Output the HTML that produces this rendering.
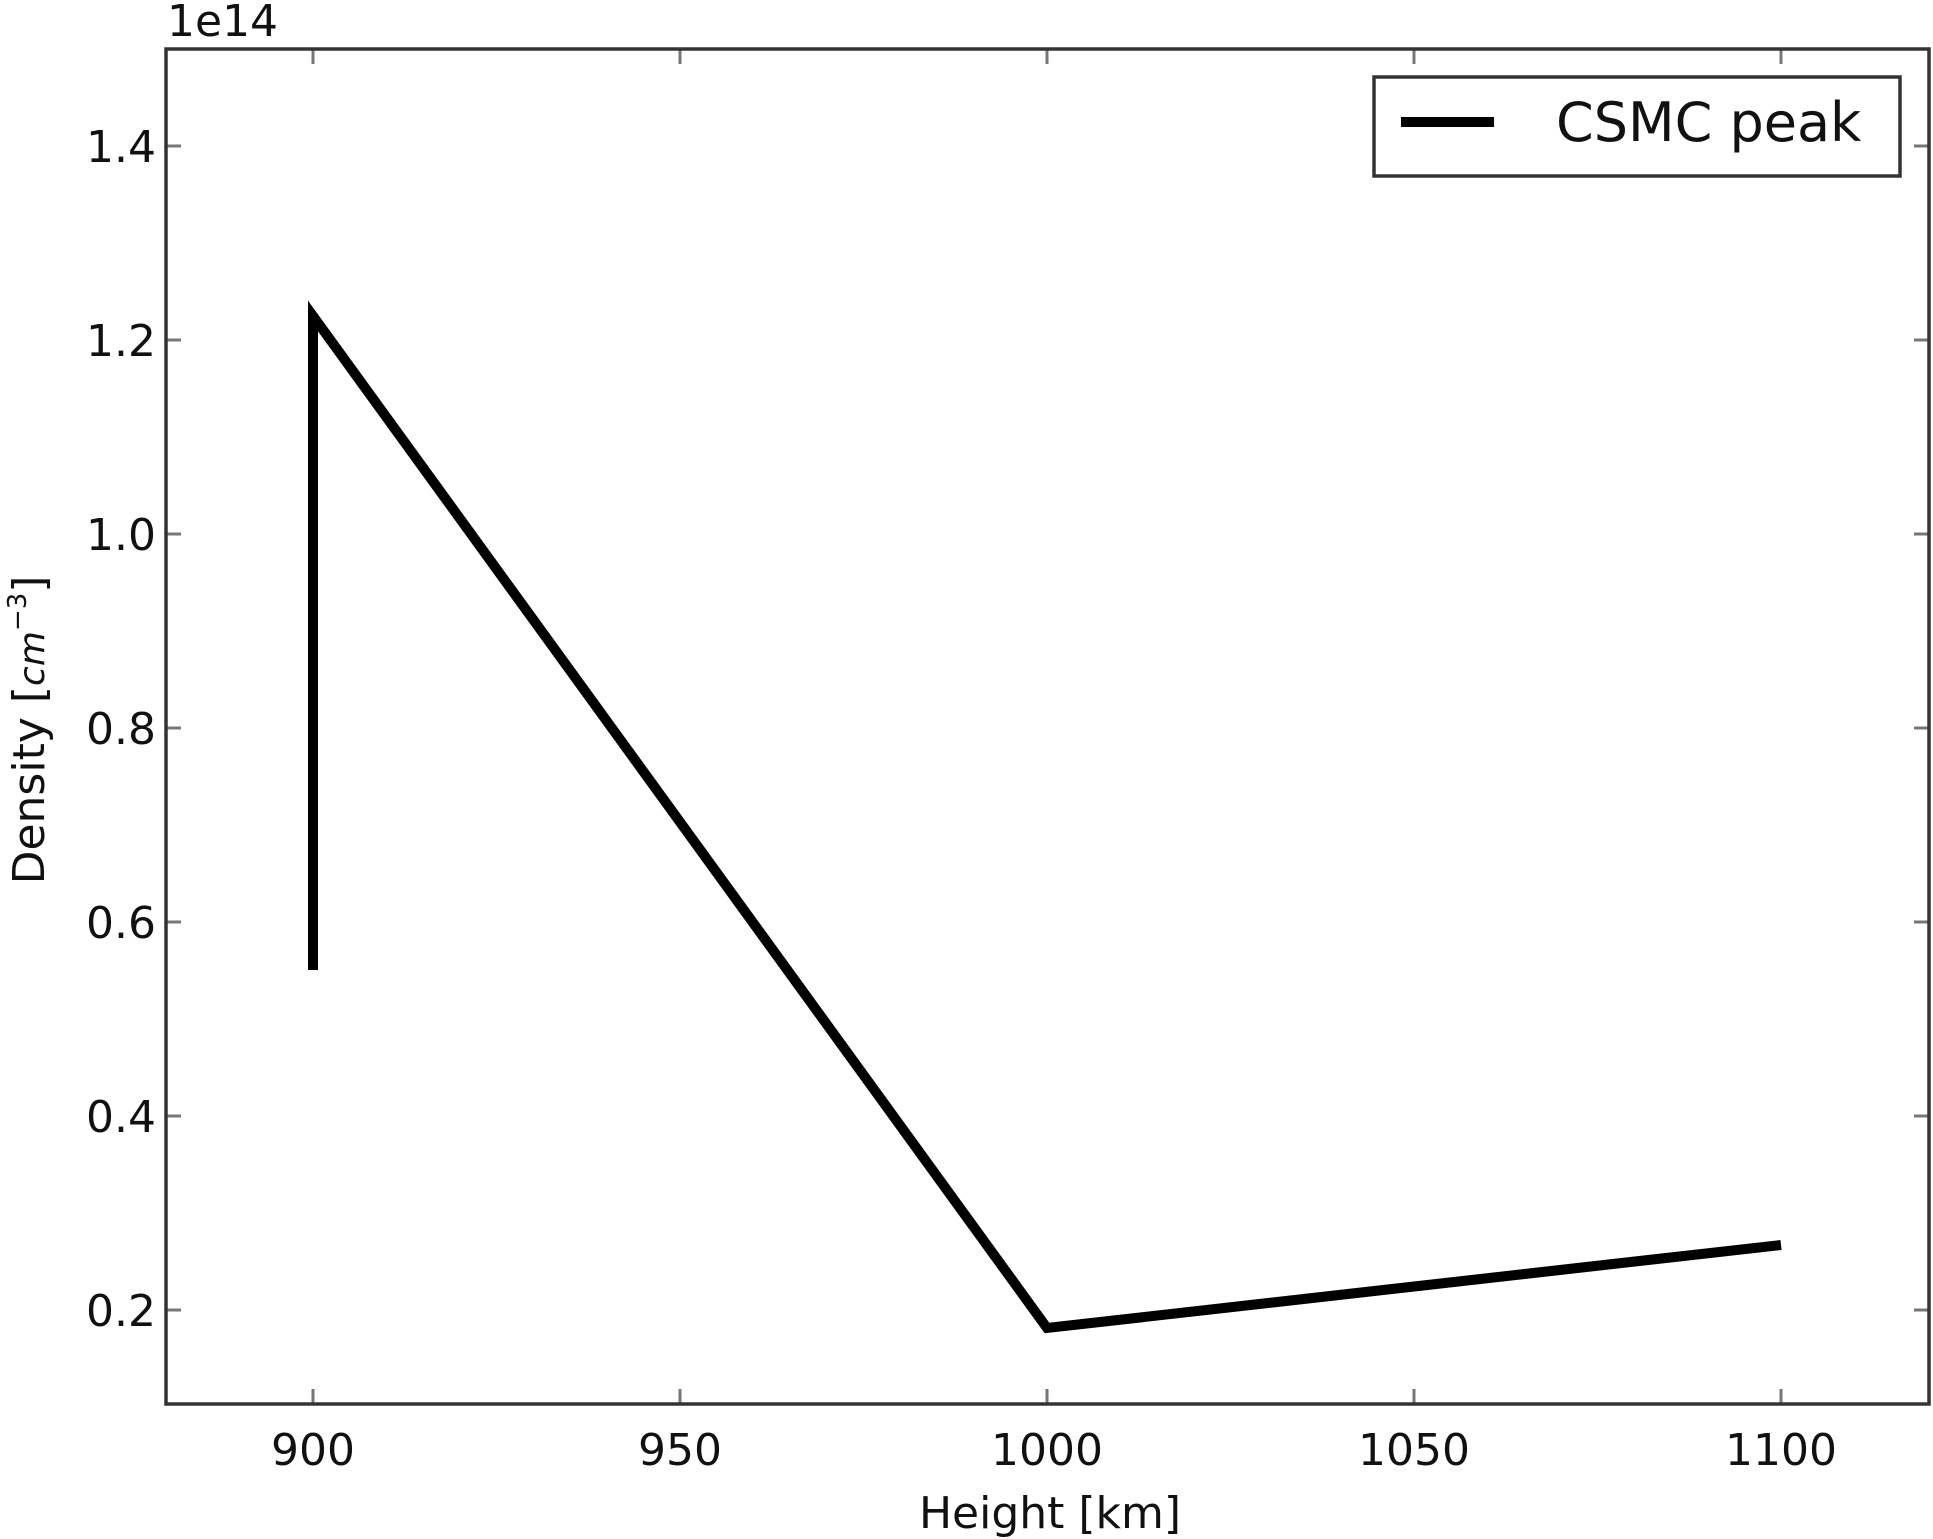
<!DOCTYPE html>
<html><head><meta charset="utf-8"><style>
html,body{margin:0;padding:0;background:#fff;}
svg{display:block;}
text{font-family:"DejaVu Sans","Liberation Sans",sans-serif;fill:#111;}
</style></head><body>
<svg width="1933" height="1539" viewBox="0 0 1933 1539" xmlns="http://www.w3.org/2000/svg">
<rect width="1933" height="1539" fill="#fff"/>
<!-- series -->
<polyline points="313,970 313,316 1047,1328 1781,1245" fill="none" stroke="#000" stroke-width="10" stroke-linejoin="miter" stroke-miterlimit="10"/>
<!-- ticks -->
<g stroke="#777" stroke-width="3">
<line x1="313" y1="1404" x2="313" y2="1389"/><line x1="680" y1="1404" x2="680" y2="1389"/><line x1="1047" y1="1404" x2="1047" y2="1389"/><line x1="1414" y1="1404" x2="1414" y2="1389"/><line x1="1781" y1="1404" x2="1781" y2="1389"/>
<line x1="313" y1="49" x2="313" y2="64"/><line x1="680" y1="49" x2="680" y2="64"/><line x1="1047" y1="49" x2="1047" y2="64"/><line x1="1414" y1="49" x2="1414" y2="64"/><line x1="1781" y1="49" x2="1781" y2="64"/>
<line x1="166" y1="146" x2="181" y2="146"/><line x1="166" y1="340" x2="181" y2="340"/><line x1="166" y1="534" x2="181" y2="534"/><line x1="166" y1="728" x2="181" y2="728"/><line x1="166" y1="922" x2="181" y2="922"/><line x1="166" y1="1116" x2="181" y2="1116"/><line x1="166" y1="1310" x2="181" y2="1310"/>
<line x1="1929" y1="146" x2="1914" y2="146"/><line x1="1929" y1="340" x2="1914" y2="340"/><line x1="1929" y1="534" x2="1914" y2="534"/><line x1="1929" y1="728" x2="1914" y2="728"/><line x1="1929" y1="922" x2="1914" y2="922"/><line x1="1929" y1="1116" x2="1914" y2="1116"/><line x1="1929" y1="1310" x2="1914" y2="1310"/>
</g>
<rect x="166" y="49" width="1763" height="1355" fill="none" stroke="#333" stroke-width="3.5"/>
<!-- y tick labels -->
<g font-size="44" text-anchor="end">
<text x="156" y="162">1.4</text><text x="156" y="356">1.2</text><text x="156" y="550">1.0</text><text x="156" y="744">0.8</text><text x="156" y="938">0.6</text><text x="156" y="1132">0.4</text><text x="156" y="1326">0.2</text>
</g>
<g font-size="44" text-anchor="middle">
<text x="313" y="1465">900</text><text x="680" y="1465">950</text><text x="1047" y="1465">1000</text><text x="1414" y="1465">1050</text><text x="1781" y="1465">1100</text>
</g>
<text x="167" y="36" font-size="44">1e14</text>
<text x="1050" y="1528" font-size="44" text-anchor="middle">Height [km]</text>
<text transform="translate(44,730) rotate(-90)" font-size="44" text-anchor="middle">Density [<tspan font-style="italic" font-size="36">cm</tspan><tspan font-size="26" dy="-18">−3</tspan><tspan dy="18">]</tspan></text>
<!-- legend -->
<rect x="1374" y="77" width="526" height="99" fill="#fff" stroke="#333" stroke-width="3.5"/>
<line x1="1401" y1="122" x2="1494" y2="122" stroke="#000" stroke-width="10"/>
<text x="1556" y="141" font-size="54">CSMC peak</text>
</svg>
</body></html>
